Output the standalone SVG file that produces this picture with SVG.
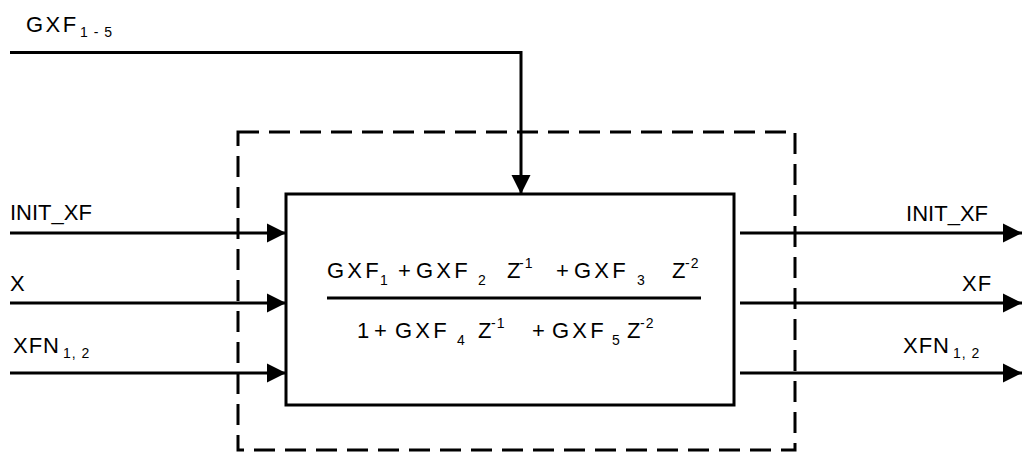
<svg xmlns="http://www.w3.org/2000/svg" width="1024" height="455" viewBox="0 0 1024 455">
<style>
.t{font-family:"Liberation Sans",Arial,sans-serif;font-size:22px;fill:#000}
.s{font-size:14px}
.g{letter-spacing:3.2px}
.ln{stroke:#000;stroke-width:3;fill:none}
.dash{stroke:#000;stroke-width:3;fill:none;stroke-dasharray:21 10}
</style>
<defs>
<marker id="ah" markerUnits="userSpaceOnUse" markerWidth="20" markerHeight="20" refX="19" refY="9.5" orient="auto" viewBox="0 0 20 19">
<path d="M0,0 L19,9.5 L0,19 Z" fill="#000"/>
</marker>
</defs>
<g id="boundary">
<rect x="238" y="132" width="557" height="318" class="dash"/>
</g>
<g id="filter">
<rect x="286" y="194" width="448" height="211" class="ln" fill="#fff"/>
<line x1="327" y1="298" x2="701" y2="298" class="ln"/>
<text class="t" y="278">
<tspan x="327" class="g">GXF</tspan><tspan x="380" y="285" class="s">1</tspan>
<tspan x="398" y="278">+</tspan>
<tspan x="416" class="g">GXF</tspan><tspan x="478" y="285" class="s">2</tspan>
<tspan x="507" y="278">Z</tspan><tspan x="519" y="268" class="s" letter-spacing="1">-1</tspan>
<tspan x="556" y="278">+</tspan>
<tspan x="574" class="g">GXF</tspan><tspan x="637" y="285" class="s">3</tspan>
<tspan x="672" y="278">Z</tspan><tspan x="685" y="268" class="s" letter-spacing="1">-2</tspan>
</text>
<text class="t" y="338">
<tspan x="357">1</tspan>
<tspan x="374">+</tspan>
<tspan x="395" class="g">GXF</tspan><tspan x="457" y="345" class="s">4</tspan>
<tspan x="478" y="338">Z</tspan><tspan x="491" y="328" class="s" letter-spacing="1">-1</tspan>
<tspan x="532" y="338">+</tspan>
<tspan x="552" class="g">GXF</tspan><tspan x="612" y="345" class="s">5</tspan>
<tspan x="627" y="338">Z</tspan><tspan x="640" y="328" class="s" letter-spacing="1">-2</tspan>
</text>
</g>
<g id="labels">
<text class="t" x="26" y="32" letter-spacing="2.5">GXF<tspan x="80" y="37" class="s" letter-spacing="1">1 - 5</tspan></text>
<text class="t" x="10" y="220">INIT_XF</text>
<text class="t" x="10" y="291">X</text>
<text class="t" x="13" y="353" letter-spacing="1">XFN<tspan x="63" y="358" class="s" letter-spacing="1">1, 2</tspan></text>
<text class="t" x="988" y="221" text-anchor="end">INIT_XF</text>
<text class="t" x="962" y="291" letter-spacing="1">XF</text>
<text class="t" x="903" y="353" letter-spacing="1">XFN<tspan x="953" y="358" class="s" letter-spacing="1">1, 2</tspan></text>
</g>
<g id="connectors">
<polyline points="10,52.5 521,52.5 521,194" class="ln" marker-end="url(#ah)"/>
<line x1="10" y1="233" x2="286" y2="233" class="ln" marker-end="url(#ah)"/>
<line x1="10" y1="303" x2="286" y2="303" class="ln" marker-end="url(#ah)"/>
<line x1="10" y1="373" x2="286" y2="373" class="ln" marker-end="url(#ah)"/>
<line x1="740" y1="233" x2="1022" y2="233" class="ln" marker-end="url(#ah)"/>
<line x1="740" y1="303" x2="1022" y2="303" class="ln" marker-end="url(#ah)"/>
<line x1="740" y1="373" x2="1022" y2="373" class="ln" marker-end="url(#ah)"/>
</g>
</svg>
